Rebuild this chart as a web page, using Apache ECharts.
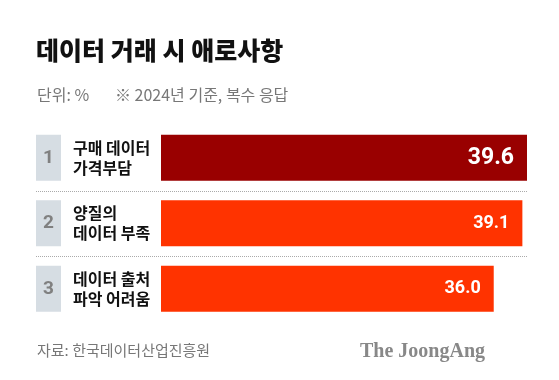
<!DOCTYPE html>
<html><head><meta charset="utf-8">
<script src="https://cdn.jsdelivr.net/npm/echarts@6/dist/echarts.min.js"></script>
<style>html,body{margin:0;padding:0;background:#fff}#c{width:559px;height:380px}</style>
</head><body><div id="c"></div>
<script>
const ranks = ['1', '2', '3'];
const categories = ['구매 데이터\n가격부담', '양질의\n데이터 부족', '데이터 출처\n파악 어려움'];
const values = [39.6, 39.1, 36.0];
const barColors = ['#990000', '#ff3300', '#ff3300'];
const labelSizes = [23, 18, 18];

const KR = '"Noto Sans CJK KR", "Noto Sans", sans-serif';
const chart = echarts.init(document.getElementById('c'), null, {renderer: 'canvas'});
chart.setOption({
  animation: false,
  backgroundColor: '#fff',
  title: [
    {text: '데이터 거래 시 애로사항', left: 31, top: 33,
     textStyle: {fontFamily: KR, fontSize: 25, fontWeight: 900, color: '#111'}},
    {text: '단위: %', left: 32, top: 82,
     textStyle: {fontFamily: KR, fontSize: 16, fontWeight: 'normal', color: '#777'}},
    {text: '※ 2024년 기준, 복수 응답', left: 110, top: 82,
     textStyle: {fontFamily: KR, fontSize: 16, fontWeight: 'normal', color: '#777'}},
    {text: '자료: 한국데이터산업진흥원', left: 32, top: 338,
     textStyle: {fontFamily: KR, fontSize: 15, fontWeight: 'normal', color: '#777'}},
    {text: 'The JoongAng', right: 69, top: 337,
     textStyle: {fontFamily: '"Liberation Serif", "DejaVu Serif", serif', fontSize: 20, fontWeight: 'bold', color: '#888'}}
  ],
  grid: {left: 161, right: 32, top: 125, height: 196.5},
  xAxis: {type: 'value', min: 0, max: 'dataMax', show: false},
  yAxis: [
    {type: 'category', data: categories, inverse: true,
     axisLine: {show: false}, axisTick: {show: false}, splitLine: {show: false},
     axisLabel: {align: 'left', margin: 88, fontFamily: KR, fontSize: 16, lineHeight: 20,
                 fontWeight: 'bold', color: '#111'}},
    {type: 'category', data: ranks, inverse: true, position: 'left',
     axisLine: {show: false}, axisTick: {show: false}, splitLine: {show: false},
     axisLabel: {align: 'left', margin: 125, formatter: v => '{b|' + v + '}',
       rich: {b: {backgroundColor: '#d6dde3', width: 25, height: 46, lineHeight: 46, align: 'center',
                  color: '#808080', fontSize: 19, fontWeight: 'bold', fontFamily: 'Roboto, "Liberation Sans", sans-serif'}}}}
  ],
  series: [
    {type: 'bar', yAxisIndex: 0, barWidth: 46,
     data: values.map((v, i) => ({value: v, itemStyle: {color: barColors[i]},
       label: {fontSize: labelSizes[i]}})),
     label: {show: true, position: 'insideRight', distance: 13, color: '#fff', fontWeight: 'bold',
             fontFamily: 'Roboto, "Liberation Sans", sans-serif', formatter: p => p.value.toFixed(1)}},
    {type: 'custom', yAxisIndex: 0, silent: true, z: 1,
     data: values.map((v, i) => [v, i]), encode: {x: 0, y: 1},
     renderItem: function (params, api) {
       const idx = params.dataIndex;
       if (idx >= values.length - 1) return null;
       const p = api.coord([0, idx]);
       const band = api.size([0, 1])[1];
       const y = Math.round(p[1] + band / 2) + 0.5;
       const x2 = api.coord([Math.max.apply(null, values), idx])[0];
       return {type: 'line', shape: {x1: params.coordSys.x - 125, y1: y, x2: x2, y2: y},
               style: {stroke: '#aaa', lineWidth: 1, lineDash: [1, 1]}};
     }}
  ]
});
</script></body></html>
